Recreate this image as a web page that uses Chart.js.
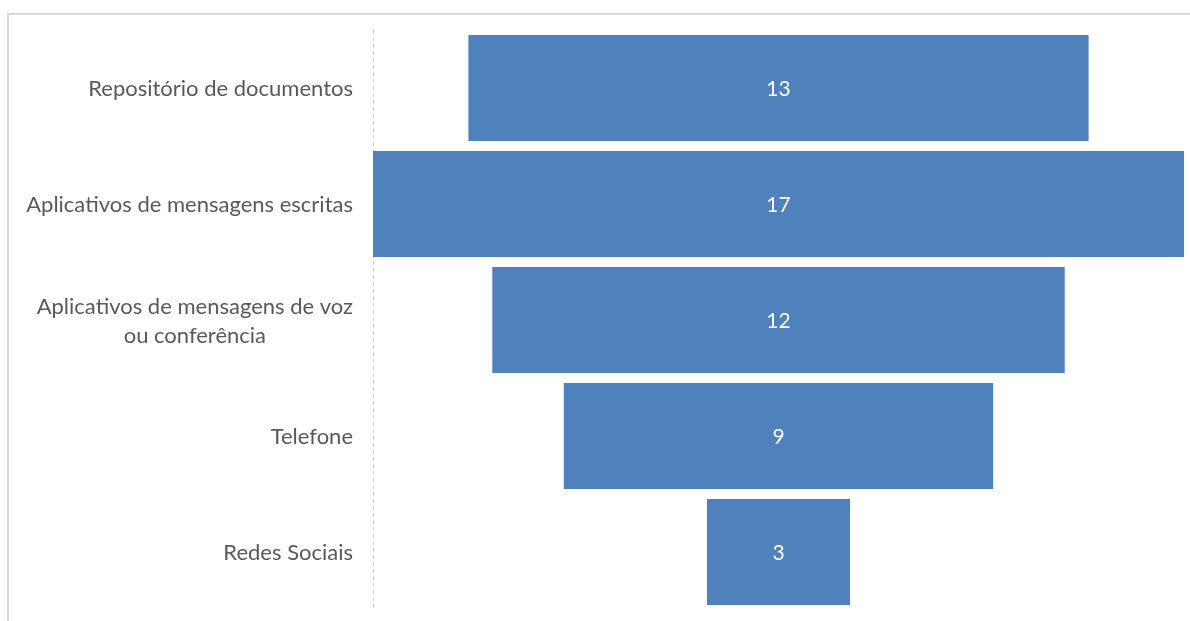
<!DOCTYPE html>
<html>
<head>
<meta charset="utf-8">
<title>Canais de comunicação</title>
<script src="https://cdn.jsdelivr.net/npm/chart.js@4.4.1/dist/chart.umd.min.js"></script>
<style>
  html, body { margin:0; padding:0; background:#fff; overflow:hidden; }
  #wrap { position:relative; width:1190px; height:621px; }
  #frame { position:absolute; left:7px; top:13px; right:-10px; bottom:-10px; border:2px solid #dadada; }
  #funnel { position:absolute; left:0; top:0; }
</style>
</head>
<body>
<div id="wrap">
  <div id="frame"></div>
  <canvas id="funnel" width="1190" height="621"></canvas>
</div>
<script>
// categories (multi-line labels as arrays) and counts
const categories = [
  ["Repositório de documentos"],
  ["Aplicativos de mensagens escritas"],
  ["Aplicativos de mensagens de voz", "ou conferência"],
  ["Telefone"],
  ["Redes Sociais"]
];
const counts = [13, 17, 12, 9, 3];

const FONT = '22px Lato, "Open Sans", sans-serif';
const maxCount = Math.max(...counts);

// funnel: each bar is centered on zero, half its value to each side
const spans = counts.map(v => [-v/2, v/2]);

// dashed vertical axis line at the left of the plot
const dashedAxis = {
  id: 'dashedAxis',
  beforeDatasetsDraw(chart){
    const a = chart.chartArea;
    const ctx = chart.ctx;
    ctx.save();
    ctx.strokeStyle = '#cfcfcf';
    ctx.lineWidth = 1;
    ctx.setLineDash([4, 3]);
    ctx.beginPath();
    ctx.moveTo(a.left + 0.5, a.top);
    ctx.lineTo(a.left + 0.5, a.bottom - 2);
    ctx.stroke();
    ctx.restore();
  }
};

// category labels: single lines right-aligned, wrapped lines centered on each other
const catLabels = {
  id: 'catLabels',
  afterDraw(chart){
    const ctx = chart.ctx;
    const y = chart.scales.y;
    const rightEdge = y.right - 20;
    const lineH = 29;
    ctx.save();
    ctx.font = FONT;
    ctx.fillStyle = '#595959';
    ctx.textAlign = 'center';
    ctx.textBaseline = 'middle';
    categories.forEach((lines, i) => {
      const cy = y.getPixelForValue(i) + 1;
      const w = Math.max(...lines.map(l => ctx.measureText(l).width));
      const cx = rightEdge - w/2;
      const top = cy - (lines.length - 1) * lineH / 2;
      lines.forEach((l, k) => ctx.fillText(l, cx, top + k*lineH));
    });
    ctx.restore();
  }
};

// value inside each bar
const valueLabels = {
  id: 'valueLabels',
  afterDatasetsDraw(chart){
    const ctx = chart.ctx;
    const meta = chart.getDatasetMeta(0);
    ctx.save();
    ctx.font = '21px Lato, "Open Sans", sans-serif';
    ctx.fillStyle = '#ffffff';
    ctx.textAlign = 'center';
    ctx.textBaseline = 'middle';
    meta.data.forEach((bar, i) => {
      const p = bar.getProps(['x', 'base', 'y'], true);
      ctx.fillText(String(counts[i]), (p.x + p.base)/2, p.y + 1);
    });
    ctx.restore();
  }
};

new Chart(document.getElementById('funnel').getContext('2d'), {
  type: 'bar',
  data: {
    labels: categories.map(c => c.join(' ')),
    datasets: [{
      data: spans,
      backgroundColor: '#4f81bd',
      borderWidth: 0,
      barPercentage: 0.914,
      categoryPercentage: 1
    }]
  },
  options: {
    indexAxis: 'y',
    responsive: false,
    animation: false,
    layout: { padding: { top: 30, bottom: 11, left: 0, right: 6 } },
    plugins: { legend: { display: false }, tooltip: { enabled: false } },
    scales: {
      x: { display: false, min: -maxCount/2, max: maxCount/2 },
      y: {
        grid: { display: false },
        ticks: { display: false },
        border: { display: false },
        afterFit(scale){ scale.width = 373; }
      }
    }
  },
  plugins: [dashedAxis, catLabels, valueLabels]
});
</script>
</body>
</html>
